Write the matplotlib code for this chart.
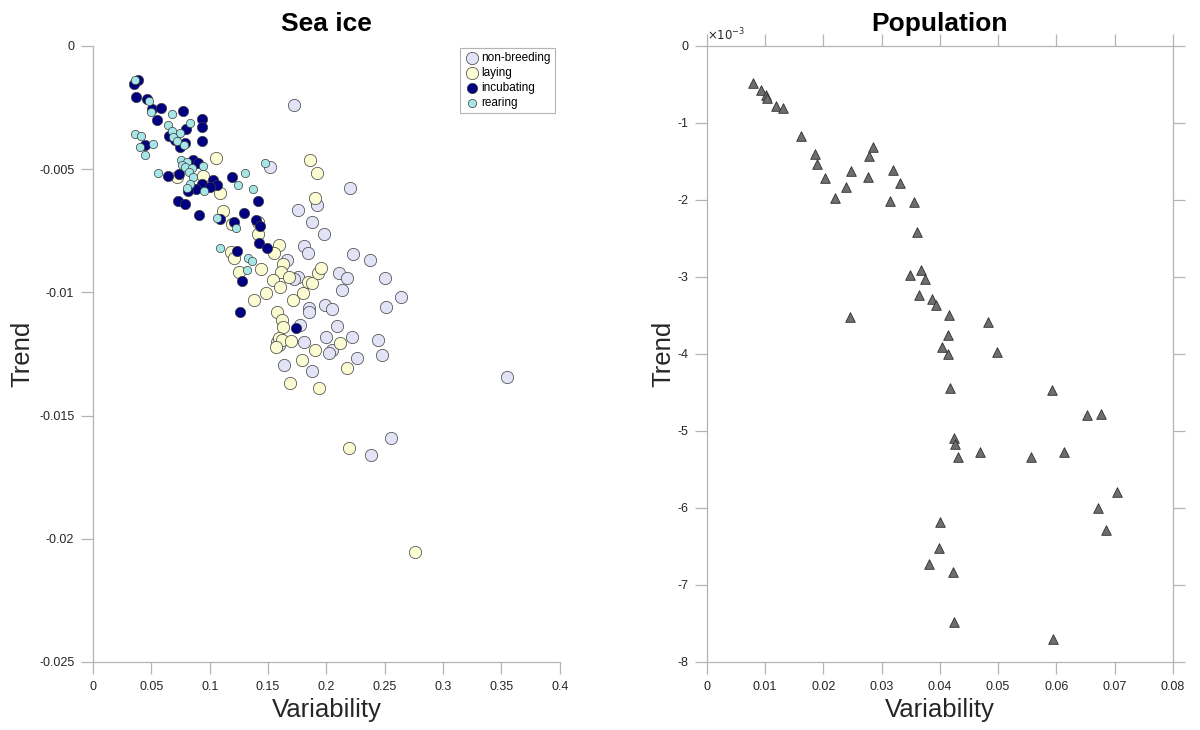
import matplotlib
matplotlib.use("Agg")
import matplotlib.pyplot as plt
from matplotlib.ticker import FuncFormatter

plt.rcParams['font.family'] = ['Liberation Sans', 'DejaVu Sans']
plt.rcParams['axes.unicode_minus'] = False

# ---- Sea ice: variability vs trend by breeding stage ----
nonbreed_x = [0.172, 0.152, 0.176, 0.192, 0.188, 0.220, 0.198, 0.181, 0.184, 0.166,
              0.176, 0.172, 0.211, 0.218, 0.223, 0.237, 0.250, 0.213, 0.251, 0.264,
              0.199, 0.205, 0.185, 0.185, 0.177, 0.209, 0.200, 0.222, 0.244, 0.181,
              0.158, 0.159, 0.205, 0.202, 0.226, 0.248, 0.164, 0.188, 0.355, 0.255,
              0.238]
nonbreed_y = [-0.00239, -0.00491, -0.00666, -0.00645, -0.00714, -0.00576, -0.00763, -0.00812,
              -0.00840, -0.00869, -0.00938, -0.00946, -0.00921, -0.00942, -0.00844, -0.00869,
              -0.00942, -0.00990, -0.01059, -0.01019, -0.01051, -0.01067, -0.01063, -0.01080,
              -0.01132, -0.01136, -0.01181, -0.01181, -0.01193, -0.01201, -0.01201, -0.01213,
              -0.01234, -0.01246, -0.01266, -0.01254, -0.01295, -0.01319, -0.01343, -0.01591,
              -0.01660]

laying_x = [0.105, 0.094, 0.072, 0.109, 0.111, 0.119, 0.141, 0.141, 0.159, 0.155,
            0.118, 0.121, 0.125, 0.144, 0.163, 0.161, 0.154, 0.160, 0.168, 0.148,
            0.138, 0.171, 0.180, 0.184, 0.188, 0.193, 0.195, 0.186, 0.192, 0.190,
            0.158, 0.162, 0.163, 0.159, 0.162, 0.157, 0.170, 0.190, 0.179, 0.212,
            0.218, 0.169, 0.194, 0.219, 0.276]
laying_y = [-0.00455, -0.00528, -0.00532, -0.00597, -0.00670, -0.00722, -0.00714, -0.00763,
            -0.00808, -0.00840, -0.00836, -0.00860, -0.00917, -0.00905, -0.00885, -0.00917,
            -0.00950, -0.00978, -0.00938, -0.01002, -0.01031, -0.01031, -0.01002, -0.00958,
            -0.00962, -0.00921, -0.00901, -0.00463, -0.00515, -0.00617, -0.01080, -0.01112,
            -0.01140, -0.01185, -0.01193, -0.01222, -0.01197, -0.01234, -0.01274, -0.01205,
            -0.01307, -0.01368, -0.01388, -0.01631, -0.02054]

incub_x = [0.0385, 0.0351, 0.0368, 0.0463, 0.0505, 0.0582, 0.0548, 0.0771, 0.0934, 0.0934,
           0.0797, 0.0651, 0.0702, 0.0745, 0.0788, 0.0934, 0.0445, 0.0857, 0.0899, 0.0737,
           0.0642, 0.0934, 0.0882, 0.0814, 0.1028, 0.1062, 0.1002, 0.1191, 0.0728, 0.0788,
           0.0908, 0.1293, 0.1413, 0.1208, 0.1396, 0.1430, 0.1422, 0.1490, 0.1233, 0.1276,
           0.1259, 0.1739, 0.1088]
incub_y = [-0.00138, -0.00154, -0.00207, -0.00215, -0.00256, -0.00252, -0.00300, -0.00264,
           -0.00296, -0.00329, -0.00337, -0.00365, -0.00381, -0.00410, -0.00394, -0.00386,
           -0.00402, -0.00463, -0.00475, -0.00519, -0.00528, -0.00560, -0.00580, -0.00588,
           -0.00544, -0.00564, -0.00572, -0.00532, -0.00629, -0.00641, -0.00686, -0.00678,
           -0.00629, -0.00714, -0.00706, -0.00731, -0.00800, -0.00820, -0.00832, -0.00954,
           -0.01080, -0.01144, -0.00702]

rear_x = [0.0360, 0.0480, 0.0497, 0.0677, 0.0642, 0.0831, 0.0677, 0.0745, 0.0685, 0.0360,
          0.0411, 0.0403, 0.0514, 0.0445, 0.0719, 0.0779, 0.0754, 0.0805, 0.0762, 0.0788,
          0.0848, 0.0942, 0.0557, 0.0822, 0.0857, 0.0831, 0.0805, 0.0951, 0.1302, 0.1242,
          0.1370, 0.1473, 0.1062, 0.1225, 0.1088, 0.1328, 0.1362, 0.1319]
rear_y = [-0.00138, -0.00223, -0.00268, -0.00276, -0.00321, -0.00313, -0.00345, -0.00353,
          -0.00369, -0.00357, -0.00365, -0.00410, -0.00398, -0.00442, -0.00386, -0.00402,
          -0.00463, -0.00471, -0.00483, -0.00491, -0.00495, -0.00487, -0.00515, -0.00511,
          -0.00532, -0.00560, -0.00576, -0.00588, -0.00515, -0.00564, -0.00580, -0.00475,
          -0.00698, -0.00739, -0.00820, -0.00860, -0.00873, -0.00909]

# ---- Population: variability vs trend ----
pop_x = [0.0079, 0.0093, 0.0101, 0.0103, 0.0119, 0.0131, 0.0161, 0.0185, 0.0189, 0.0203,
         0.0220, 0.0239, 0.0247, 0.0276, 0.0278, 0.0285, 0.0319, 0.0331, 0.0314, 0.0355,
         0.0361, 0.0349, 0.0367, 0.0374, 0.0364, 0.0386, 0.0393, 0.0415, 0.0246, 0.0482,
         0.0414, 0.0403, 0.0414, 0.0498, 0.0417, 0.0592, 0.0424, 0.0426, 0.0431, 0.0469,
         0.0556, 0.0613, 0.0400, 0.0398, 0.0381, 0.0422, 0.0424, 0.0594, 0.0652, 0.0676,
         0.0704, 0.0671, 0.0685]
pop_y = [-0.48, -0.57, -0.64, -0.68, -0.78, -0.81, -1.17, -1.40, -1.53, -1.71,
         -1.97, -1.83, -1.62, -1.70, -1.43, -1.31, -1.61, -1.78, -2.01, -2.03,
         -2.42, -2.97, -2.91, -3.03, -3.23, -3.29, -3.36, -3.49, -3.52, -3.58,
         -3.75, -3.91, -4.00, -3.97, -4.44, -4.47, -5.09, -5.17, -5.34, -5.27,
         -5.34, -5.27, -6.18, -6.52, -6.73, -6.83, -7.48, -7.70, -4.79, -4.78,
         -5.79, -6.00, -6.29]
pop_y = [v * 1e-3 for v in pop_y]

stages = [
    ("non-breeding", nonbreed_x, nonbreed_y, "#E3E3F7", 78),
    ("laying", laying_x, laying_y, "#FCFCD2", 78),
    ("incubating", incub_x, incub_y, "#000080", 55),
    ("rearing", rear_x, rear_y, "#A6E6E6", 36),
]

AXIS_GRAY = "#B4B4B4"
TEXT_DARK = "#262626"


def style_axes(ax, box):
    for side in ["left", "bottom", "top", "right"]:
        ax.spines[side].set_color(AXIS_GRAY)
        ax.spines[side].set_linewidth(0.9)
        ax.spines[side].set_visible(box or side in ("left", "bottom"))
    ax.tick_params(direction="out", length=8.5, width=0.9, color=AXIS_GRAY,
                   labelsize=9, labelcolor=TEXT_DARK, pad=5,
                   top=box, right=box)


fig = plt.figure(figsize=(12, 7.3), dpi=100)
ax1 = fig.add_axes([0.0775, 0.0932, 0.389, 0.8438])
ax2 = fig.add_axes([0.589, 0.0932, 0.3883, 0.8438])

for label, xs, ys, col, size in stages:
    ax1.scatter(xs, ys, s=size, c=col, edgecolors="#3C3C3C", linewidths=0.5,
                label=label, zorder=3)

ax1.set_xlim(0, 0.4)
ax1.set_ylim(-0.025, 0)
ax1.set_xticks([0, 0.05, 0.1, 0.15, 0.2, 0.25, 0.3, 0.35, 0.4])
ax1.set_yticks([-0.025, -0.02, -0.015, -0.01, -0.005, 0])
ax1.xaxis.set_major_formatter(FuncFormatter(lambda v, _: f"{v:g}"))
ax1.yaxis.set_major_formatter(FuncFormatter(lambda v, _: f"{v:g}"))
style_axes(ax1, box=False)
ax1.set_title("Sea ice", fontsize=19, fontweight="bold", pad=11)
ax1.set_xlabel("Variability", fontsize=18.5, color=TEXT_DARK, labelpad=4)
ax1.set_ylabel("Trend", fontsize=18.5, color=TEXT_DARK, labelpad=3)
leg = ax1.legend(loc="upper right", bbox_to_anchor=(0.99, 0.997), borderaxespad=0,
                 fontsize=8.5, frameon=True, fancybox=False, framealpha=1,
                 edgecolor=AXIS_GRAY, labelspacing=0.25, handletextpad=0.1,
                 borderpad=0.35, handlelength=1.4, scatterpoints=1)
leg.get_frame().set_linewidth(0.8)

ax2.scatter(pop_x, pop_y, s=48, marker="^", c="#6E6E6E", edgecolors="#2E2E2E",
            linewidths=0.6, zorder=3)
ax2.set_xlim(0, 0.08)
ax2.set_ylim(-0.008, 0)
ax2.set_xticks([0, 0.01, 0.02, 0.03, 0.04, 0.05, 0.06, 0.07, 0.08])
ax2.set_yticks([-0.008, -0.007, -0.006, -0.005, -0.004, -0.003, -0.002, -0.001, 0])
ax2.xaxis.set_major_formatter(FuncFormatter(lambda v, _: f"{v:g}"))
ax2.yaxis.set_major_formatter(FuncFormatter(lambda v, _: f"{round(v * 1e3):g}"))
style_axes(ax2, box=True)
ax2.text(0.0, 1.004, r"$\times10^{-3}$", transform=ax2.transAxes, fontsize=8.5,
         color=TEXT_DARK, ha="left", va="bottom")
ax2.set_title("Population", fontsize=19, fontweight="bold", pad=11)
ax2.set_xlabel("Variability", fontsize=18.5, color=TEXT_DARK, labelpad=4)
ax2.set_ylabel("Trend", fontsize=18.5, color=TEXT_DARK, labelpad=1)

fig.savefig("out.png", dpi=100)
